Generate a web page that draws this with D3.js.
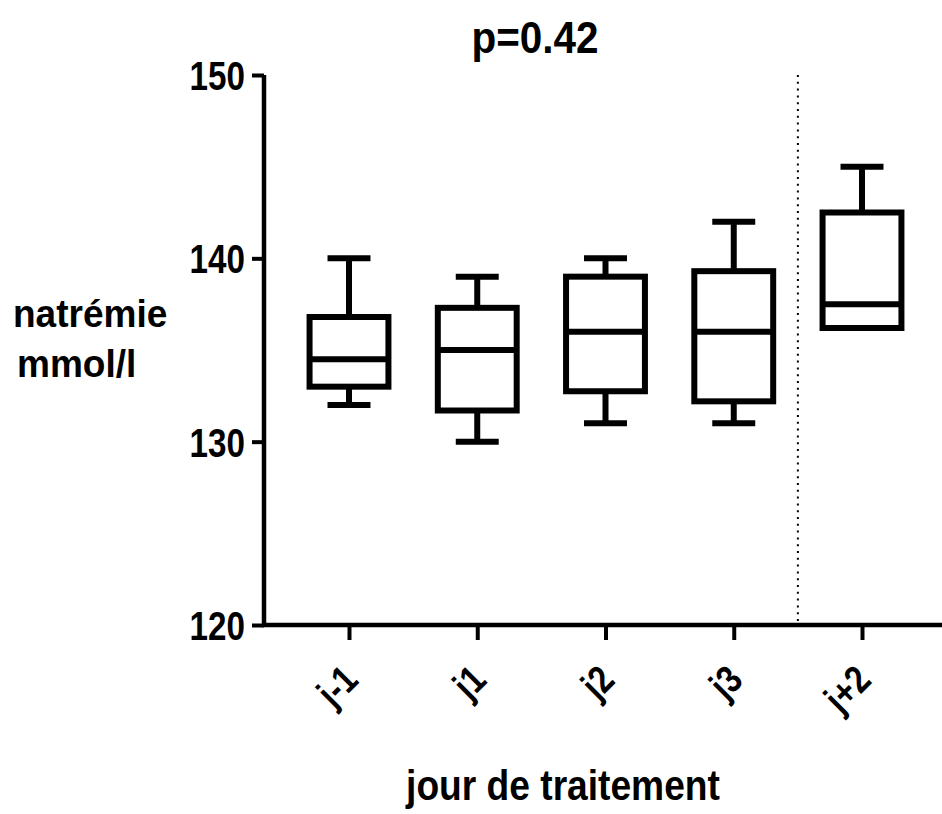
<!DOCTYPE html>
<html>
<head>
<meta charset="utf-8">
<script src="https://cdn.jsdelivr.net/npm/d3@7"></script>
<style>
  html, body { margin: 0; padding: 0; background: #fff; }
  svg { display: block; }
  text { font-family: "Liberation Sans", Arial, sans-serif; font-weight: bold; fill: #000; }
</style>
</head>
<body>
<svg id="chart" width="942" height="814"></svg>
<script>
// ---- data ----
const categories = ["j-1", "j1", "j2", "j3", "j+2"];
const whiskerLow  = [132, 130, 131, 131, 136.2];
const q1          = [133, 131.7, 132.75, 132.2, 136.2];
const medians     = [134.5, 135, 136, 136, 137.5];
const q3          = [136.8, 137.3, 139, 139.3, 142.5];
const whiskerHigh = [140, 139, 140, 142, 145];
const yTicks = [120, 130, 140, 150];
const title = "p=0.42";
const yLabelLines = ["natrémie", "mmol/l"];
const xLabel = "jour de traitement";

// ---- layout ----
const axisX = 264, axisY = 625, topY = 75, rightX = 942;
const firstX = 349, lastX = 862;
const narrow = 0.83;

const svg = d3.select("#chart");

const y = d3.scaleLinear().domain([120, 150]).range([axisY, topY]);
const x = d3.scalePoint().domain(categories).range([firstX, lastX]);
const step = x.step();
const boxW = step * 0.615;
const capW = step * 0.335;
const sw = 6;

// dotted separator between j3 and j+2
const sepX = (x("j3") + x("j+2")) / 2;
svg.append("line")
  .attr("x1", sepX).attr("x2", sepX)
  .attr("y1", topY).attr("y2", axisY)
  .attr("stroke", "#000").attr("stroke-width", 2)
  .attr("stroke-dasharray", "2,4.8");

// boxes
const data = categories.map((c, i) => ({
  c, lo: whiskerLow[i], q1: q1[i], med: medians[i], q3: q3[i], hi: whiskerHigh[i]
}));

const g = svg.append("g");
data.forEach(d => {
  const cx = x(d.c);
  if (d.hi > d.q3) {
    g.append("line").attr("x1", cx).attr("x2", cx)
      .attr("y1", y(d.q3)).attr("y2", y(d.hi))
      .attr("stroke", "#000").attr("stroke-width", sw);
    g.append("line").attr("x1", cx - capW / 2).attr("x2", cx + capW / 2)
      .attr("y1", y(d.hi)).attr("y2", y(d.hi))
      .attr("stroke", "#000").attr("stroke-width", sw);
  }
  if (d.lo < d.q1) {
    g.append("line").attr("x1", cx).attr("x2", cx)
      .attr("y1", y(d.q1)).attr("y2", y(d.lo))
      .attr("stroke", "#000").attr("stroke-width", sw);
    g.append("line").attr("x1", cx - capW / 2).attr("x2", cx + capW / 2)
      .attr("y1", y(d.lo)).attr("y2", y(d.lo))
      .attr("stroke", "#000").attr("stroke-width", sw);
  }
  g.append("rect")
    .attr("x", cx - boxW / 2).attr("width", boxW)
    .attr("y", y(d.q3)).attr("height", y(d.q1) - y(d.q3))
    .attr("fill", "#fff").attr("stroke", "#000").attr("stroke-width", sw);
  g.append("line").attr("x1", cx - boxW / 2).attr("x2", cx + boxW / 2)
    .attr("y1", y(d.med)).attr("y2", y(d.med))
    .attr("stroke", "#000").attr("stroke-width", sw);
});

// y axis
const yAxis = d3.axisLeft(y).tickValues(yTicks).tickSize(12).tickPadding(7);
const yg = svg.append("g").attr("transform", `translate(${axisX},0)`).call(yAxis);
yg.select(".domain").remove();
yg.selectAll(".tick line").attr("stroke", "#000").attr("stroke-width", 4);
yg.selectAll(".tick text")
  .attr("font-size", 40).attr("dy", null).attr("x", 0).attr("y", 0)
  .attr("transform", `translate(-19,14.5) scale(${narrow},1)`)
  .style("font-family", '"Liberation Sans", Arial, sans-serif')
  .style("font-weight", "bold");
svg.append("line").attr("x1", axisX).attr("x2", axisX)
  .attr("y1", topY).attr("y2", axisY + 2)
  .attr("stroke", "#000").attr("stroke-width", 4.5);

// x axis
const xAxis = d3.axisBottom(x).tickSize(15).tickFormat("");
const xg = svg.append("g").attr("transform", `translate(0,${axisY})`).call(xAxis);
xg.select(".domain").remove();
xg.selectAll(".tick line").attr("stroke", "#000").attr("stroke-width", 4);
svg.append("line").attr("x1", axisX - 2).attr("x2", rightX)
  .attr("y1", axisY).attr("y2", axisY)
  .attr("stroke", "#000").attr("stroke-width", 4.5);

// rotated category labels
svg.append("g").selectAll("text").data(categories).join("text")
  .attr("transform", d => `translate(${x(d) + 11},${axisY + 57}) rotate(-45) scale(${narrow},1)`)
  .attr("text-anchor", "end")
  .attr("font-size", 39)
  .text(d => d);

// title
svg.append("text")
  .attr("transform", "translate(535,53) scale(0.92,1)")
  .attr("text-anchor", "middle").attr("font-size", 44)
  .text(title);

// y label
svg.append("text").attr("transform", "translate(13,327) scale(0.95,1)").attr("font-size", 39).text(yLabelLines[0]);
svg.append("text").attr("transform", "translate(17,377) scale(0.95,1)").attr("font-size", 39).text(yLabelLines[1]);

// x label
svg.append("text")
  .attr("transform", "translate(563,800) scale(0.885,1)")
  .attr("text-anchor", "middle").attr("font-size", 42)
  .text(xLabel);
</script>
</body>
</html>
